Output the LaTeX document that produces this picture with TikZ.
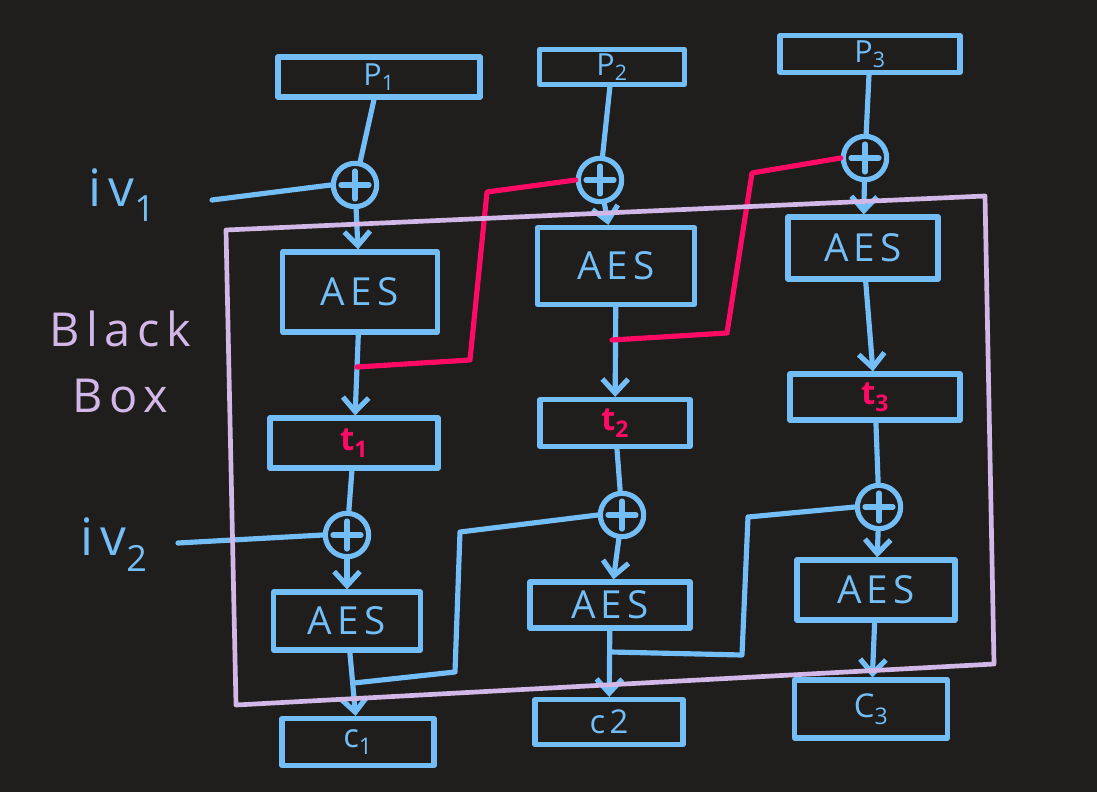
\documentclass[tikz,border=0pt]{standalone}
\usepackage{fontspec}
\setmainfont{Open Sans}
\newfontfamily\handfont[LetterSpace=14]{Open Sans}
\usetikzlibrary{arrows.meta}
\definecolor{bgc}{HTML}{1F1E1D}
\definecolor{hblue}{HTML}{74BEF8}
\definecolor{hpurp}{HTML}{D2B8E8}
\definecolor{hred}{HTML}{FF0A64}
\newcommand\aesfont{\handfont\fontsize{33}{38}\selectfont}
\newcommand\plabfont{\handfont\fontsize{26}{30}\selectfont}
\newcommand\tlabfont{\handfont\bfseries\fontsize{28}{32}\selectfont}
\newcommand\clabfont{\handfont\fontsize{28}{32}\selectfont}
\newcommand\ivfont{\handfont\fontsize{44}{50}\selectfont}
\newcommand\bbfont{\handfont\fontsize{40}{56}\selectfont}
\begin{document}
\begin{tikzpicture}[x=0.03cm,y=-0.03cm, line cap=round, line join=round,
  wire/.style={draw=hblue, line width=4.4pt},
  redwire/.style={draw=hred, line width=4.4pt},
  arr/.style={wire, -{Straight Barb[length=12pt,width=22pt,line width=4.4pt]}},
  box/.style={draw=hblue, line width=4.4pt, rectangle, inner sep=0pt, text=hblue},
  xor/.style={draw=hblue, line width=4.4pt, circle, minimum size=1.3cm, inner sep=0pt,
    path picture={
      \draw[hblue, line width=4.4pt] (path picture bounding box.center) ++(0,0.42cm) -- ++(0,-0.84cm);
      \draw[hblue, line width=4.4pt] (path picture bounding box.center) ++(-0.42cm,0) -- ++(0.84cm,0);
    }},
  lbl/.style={inner sep=0pt}
]
\fill[bgc] (0,0) rectangle (1097,792);

% column 1
\node[box, minimum width=6.06cm, minimum height=1.2cm] (P1) at (379,77) {\plabfont P\textsubscript{1}};
\node[xor] (X1a) at (355,185) {};
\node[box, minimum width=4.65cm, minimum height=2.4cm] (A1a) at (360,292) {\aesfont AES};
\node[box, minimum width=5.04cm, minimum height=1.5cm] (T1) at (354,443) {\tlabfont\color{hred}t\textsubscript{1}};
\node[xor] (X1b) at (347,535) {};
\node[box, minimum width=4.41cm, minimum height=1.74cm] (A1b) at (347,621) {\aesfont AES};
\node[box, minimum width=4.56cm, minimum height=1.41cm] (C1) at (358,742) {\clabfont c\textsubscript{1}};

% column 2
\node[box, minimum width=4.35cm, minimum height=1.05cm] (P2) at (612,67) {\plabfont P\textsubscript{2}};
\node[xor] (X2a) at (600,180) {};
\node[box, minimum width=4.71cm, minimum height=2.31cm] (A2a) at (616,266) {\aesfont AES};
\node[box, minimum width=4.5cm, minimum height=1.41cm] (T2) at (615,423) {\tlabfont\color{hred}t\textsubscript{2}};
\node[xor] (X2b) at (622,515) {};
\node[box, minimum width=4.8cm, minimum height=1.38cm] (A2b) at (610,605) {\aesfont AES};
\node[box, minimum width=4.44cm, minimum height=1.35cm] (C2) at (609,722) {\clabfont c2};

% column 3
\node[box, minimum width=5.4cm, minimum height=1.11cm] (P3) at (870,54) {\plabfont P\textsubscript{3}};
\node[xor] (X3a) at (865,158) {};
\node[box, minimum width=4.5cm, minimum height=1.86cm] (A3a) at (863,248) {\aesfont AES};
\node[box, minimum width=5.1cm, minimum height=1.38cm] (T3) at (875,397) {\tlabfont\color{hred}t\textsubscript{3}};
\node[xor] (X3b) at (879,507) {};
\node[box, minimum width=4.74cm, minimum height=1.8cm] (A3b) at (876,590) {\aesfont AES};
\node[box, minimum width=4.59cm, minimum height=1.74cm] (C3) at (871,709) {\clabfont C\textsubscript{3}};

% left labels
\node[lbl, text=hblue] (iv1) at (122,195) {\ivfont iv\textsubscript{1}};
\node[lbl, text=hblue] (iv2) at (114,545) {\ivfont iv\textsubscript{2}};
\node[lbl, text=hpurp, align=center, font=\bbfont] (bb) at (120,362) {Black\\Box};

% vertical flow
\foreach \c in {1,2,3}{
  \draw[wire] (P\c) -- (X\c a);
  \draw[arr] (X\c a) -- (A\c a);
  \draw[arr] (A\c a) -- (T\c);
  \draw[wire] (T\c) -- (X\c b);
  \draw[arr] (X\c b) -- (A\c b);
  \draw[arr] (A\c b) -- (C\c);
}

% iv inputs
\coordinate (iv1e) at (212,200);
\coordinate (iv2e) at (178,543);
\draw[wire] (iv1e) -- (X1a.west);
\draw[wire] (iv2e) -- (X1b.west);

% red chaining
\coordinate (r1) at (357,367);
\coordinate (r2) at (612,340);
\draw[redwire] (r1) -- (470,360) -- (487,192) -- (X2a.west);
\draw[redwire] (r2) -- (727,333) -- (752,173) -- (X3a.west);

% blue chaining
\coordinate (b1) at (354,683);
\coordinate (b2) at (611,652);
\draw[wire] (b1) -- (455,672) -- (460,532) -- (X2b.west);
\draw[wire] (b2) -- (742,655) -- (748,517) -- (X3b.west);

% black box
\draw[hpurp, line width=4pt] (226,230) -- (985,196) -- (994,664) -- (236,705) -- cycle;
\end{tikzpicture}
\end{document}
